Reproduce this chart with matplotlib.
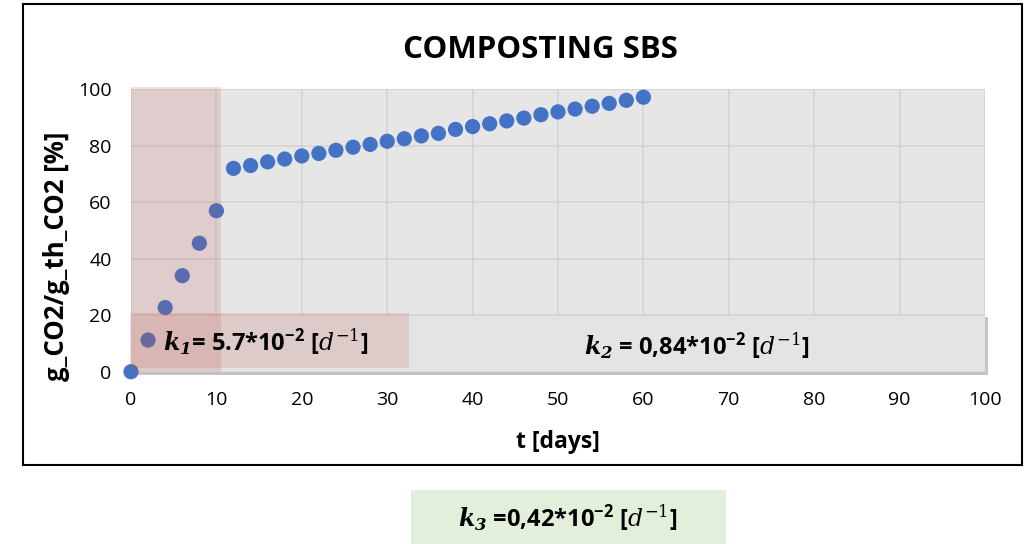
import matplotlib
matplotlib.use("Agg")
import matplotlib.pyplot as plt
from matplotlib.patches import Rectangle

# data
days = [0, 2, 4, 6, 8, 10, 12, 14, 16, 18, 20, 22, 24, 26, 28, 30,
        32, 34, 36, 38, 40, 42, 44, 46, 48, 50, 52, 54, 56, 58, 60]
co2_pct = [0.0, 11.2, 22.7, 34.0, 45.5, 57.0, 72.0, 73.0, 74.3, 75.3, 76.4,
           77.3, 78.4, 79.5, 80.5, 81.6, 82.5, 83.5, 84.4, 85.8, 86.8,
           87.8, 88.8, 89.8, 91.0, 92.0, 93.0, 94.0, 95.0, 96.1, 97.2]
x_ticks = [0, 10, 20, 30, 40, 50, 60, 70, 80, 90, 100]
y_ticks = [0, 20, 40, 60, 80, 100]

title = "COMPOSTING SBS"
x_label = "t [days]"
y_label = "g_CO2/g_th_CO2 [%]"
k1_label = r"$\mathbf{k_1}$= 5.7*10$^{\mathsf{-2}}$ [$d^{-1}$]"
k2_label = r"$\mathbf{k_2}$ = 0,84*10$^{\mathsf{-2}}$ [$d^{-1}$]"
k3_label = r"$\mathbf{k_3}$ =0,42*10$^{\mathsf{-2}}$ [$d^{-1}$]"

FONT = "Open Sans"
plt.rcParams["font.family"] = [FONT, "DejaVu Sans"]
plt.rcParams["mathtext.fontset"] = "custom"
plt.rcParams["mathtext.rm"] = "DejaVu Serif"
plt.rcParams["mathtext.it"] = "DejaVu Serif:italic"
plt.rcParams["mathtext.bf"] = "DejaVu Serif:italic:bold"
plt.rcParams["mathtext.sf"] = FONT + ":bold"

W, H = 1033, 544
fig = plt.figure(figsize=(W / 100, H / 100), dpi=100)

# outer frame of the chart
fig.patches.append(Rectangle((23 / W, 1 - 465 / H), 999 / W, 461 / H,
                             transform=fig.transFigure, fill=False,
                             edgecolor="black", linewidth=1.5))

ax = fig.add_axes([131 / W, 1 - 371.7 / H, 854 / W, 282.4 / H])
ax.set_facecolor("#e6e6e6")
ax.set_xlim(0, 100)
ax.set_ylim(0, 100)
ax.set_xticks(x_ticks)
ax.set_yticks(y_ticks)
ax.grid(True, color="#d3d3d3", linewidth=1.2, zorder=0)
ax.set_axisbelow(True)
for s in ["top", "right", "left"]:
    ax.spines[s].set_visible(False)
ax.spines["bottom"].set_color("#bfbfbf")
ax.tick_params(length=0, labelsize=14, pad=14)

# k2 box (grey, with a small shadow)
ax.add_patch(Rectangle((0.3, -1.2), 100.1, 20.6, facecolor="#c4c4c4",
                       edgecolor="none", zorder=1, clip_on=False))
ax.add_patch(Rectangle((-0.1, -0.6), 100.1, 20.5, facecolor="#e4e4e4",
                       edgecolor="none", zorder=1.5, clip_on=False))
ax.text(66.3, 9.3, k2_label, ha="center", va="center", fontsize=17,
        fontweight="bold", zorder=2)

ax.scatter(days, co2_pct, s=120, color="#4472c4", edgecolors="none",
           zorder=3, clip_on=False)

# k1 region: vertical band plus label box, translucent red
red = "#c0504d"
ax.add_patch(Rectangle((0, 0), 10.5, 100.7, facecolor=red, alpha=0.17,
                       edgecolor="none", zorder=4, clip_on=False))
ax.add_patch(Rectangle((0, 1.3), 32.6, 19.5, facecolor=red, alpha=0.17,
                       edgecolor="none", zorder=4, clip_on=False))
ax.text(3.7, 10.6, k1_label, ha="left", va="center", fontsize=17,
        fontweight="bold", zorder=5)

fig.text(540 / W, 1 - 50 / H, title, ha="center", va="center",
         fontsize=22.5, fontweight="bold")
fig.text(558 / W, 1 - 442 / H, x_label, ha="center", va="center",
         fontsize=16.5, fontweight="bold")
fig.text(57 / W, 1 - 256 / H, y_label, ha="center", va="center",
         rotation=90, fontsize=18.5, fontweight="bold")

# k3 box below the chart
fig.patches.append(Rectangle((411 / W, 0), 315 / W, 54 / H,
                             transform=fig.transFigure,
                             facecolor="#e2efda", edgecolor="none"))
fig.text(568 / W, 1 - 518 / H, k3_label, ha="center", va="center",
         fontsize=17, fontweight="bold")

fig.savefig("out.png", dpi=100)
